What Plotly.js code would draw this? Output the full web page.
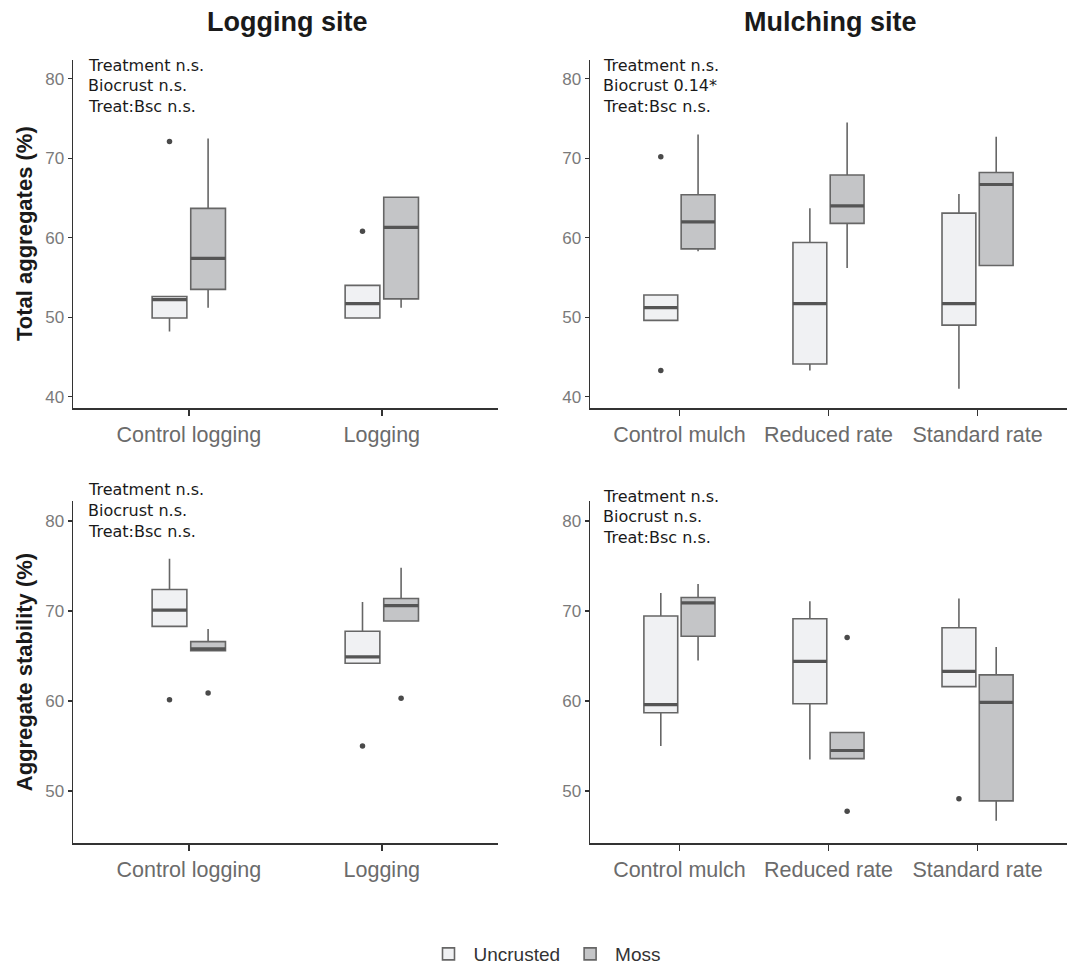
<!DOCTYPE html>
<html>
<head>
<meta charset="utf-8">
<script src="https://cdn.plot.ly/plotly-3.0.1.min.js"></script>
<style>html,body{margin:0;padding:0;background:#fff;}#chart{width:1067px;height:973px;}</style>
</head>
<body>
<div id="chart"></div>
<script>
// ---------- DATA ----------
const logCats = ["Control logging", "Logging"];
const mulCats = ["Control mulch", "Reduced rate", "Standard rate"];
const groupNames = ["Uncrusted", "Moss"];

// Total aggregates (%) - Logging site
const taLogUnc  = {lo:[48.2, 49.8], q1:[49.9, 49.9], med:[52.2, 51.7], q3:[52.6, 54.0], hi:[52.6, 54.0]};
const taLogMoss = {lo:[51.2, 51.2], q1:[53.5, 52.3], med:[57.4, 61.3], q3:[63.7, 65.1], hi:[72.5, 65.1]};
const taLogUncOut  = {cat:["Control logging", "Logging"], y:[72.1, 60.8]};
const taLogMossOut = {cat:[], y:[]};

// Total aggregates (%) - Mulching site
const taMulUnc  = {lo:[49.6, 43.3, 41.0], q1:[49.6, 44.1, 49.0], med:[51.2, 51.7, 51.7], q3:[52.8, 59.4, 63.1], hi:[52.8, 63.7, 65.5]};
const taMulMoss = {lo:[58.3, 56.2, 56.5], q1:[58.6, 61.8, 56.5], med:[62.0, 64.0, 66.7], q3:[65.4, 67.9, 68.2], hi:[73.0, 74.5, 72.7]};
const taMulUncOut  = {cat:["Control mulch", "Control mulch"], y:[70.2, 43.3]};
const taMulMossOut = {cat:[], y:[]};

// Aggregate stability (%) - Logging site
const asLogUnc  = {lo:[68.3, 64.2], q1:[68.3, 64.2], med:[70.1, 64.9], q3:[72.4, 67.75], hi:[75.8, 71.0]};
const asLogMoss = {lo:[65.6, 68.9], q1:[65.6, 68.9], med:[65.8, 70.6], q3:[66.6, 71.4], hi:[68.0, 74.8]};
const asLogUncOut  = {cat:["Control logging", "Logging"], y:[60.15, 55.0]};
const asLogMossOut = {cat:["Control logging", "Logging"], y:[60.9, 60.3]};

// Aggregate stability (%) - Mulching site
const asMulUnc  = {lo:[55.0, 53.5, 61.6], q1:[58.7, 59.7, 61.6], med:[59.6, 64.4, 63.3], q3:[69.45, 69.15, 68.15], hi:[72.0, 71.1, 71.4]};
const asMulMoss = {lo:[64.5, 53.6, 46.7], q1:[67.2, 53.6, 48.9], med:[70.9, 54.5, 59.85], q3:[71.5, 56.5, 62.9], hi:[73.0, 56.5, 66.0]};
const asMulUncOut  = {cat:["Standard rate"], y:[49.15]};
const asMulMossOut = {cat:["Reduced rate", "Reduced rate"], y:[67.05, 47.75]};

// Statistics text
const statsTaLog = ["Treatment n.s.", "Biocrust n.s.", "Treat:Bsc n.s."];
const statsTaMul = ["Treatment n.s.", "Biocrust 0.14*", "Treat:Bsc n.s."];
const statsAsLog = ["Treatment n.s.", "Biocrust n.s.", "Treat:Bsc n.s."];
const statsAsMul = ["Treatment n.s.", "Biocrust n.s.", "Treat:Bsc n.s."];

const siteTitles = ["Logging site", "Mulching site"];
const yTitles = ["Total aggregates (%)", "Aggregate stability (%)"];
const taTicks = [40, 50, 60, 70, 80];
const asTicks = [50, 60, 70, 80];

// ---------- STYLE / LAYOUT ----------
const W = 1067, H = 973;
const fx = px => px / W;
const fy = px => 1 - px / H;
const fills = ["#f0f1f3", "#c4c5c7"];
const boxLine = "#666666";
const medLine = "#555555";
const ptColor = "#4a4a4a";

const traces = [];
function addPanel(xa, ya, cats, groups, outs, offset, width, showlegend) {
  groups.forEach((g, gi) => {
    const sh = gi === 0 ? -offset : offset;
    const pos = cats.map((c, i) => i + sh);
    traces.push({
      type: 'box', xaxis: xa, yaxis: ya, name: groupNames[gi], legendgroup: groupNames[gi],
      showlegend: showlegend, x: pos,
      q1: g.q1, median: g.med, q3: g.q3, lowerfence: g.lo, upperfence: g.hi,
      width: width, whiskerwidth: 0, boxpoints: false,
      fillcolor: fills[gi], line: {color: boxLine, width: 1.6}, hoverinfo: 'skip'
    });
    // thicker median line (ggplot style)
    const mx = [], my = [];
    pos.forEach((p, i) => { mx.push(p - width / 2, p + width / 2, null); my.push(g.med[i], g.med[i], null); });
    traces.push({type: 'scatter', mode: 'lines', xaxis: xa, yaxis: ya, x: mx, y: my,
      line: {color: medLine, width: 3.2}, showlegend: false, hoverinfo: 'skip'});
    const o = outs[gi];
    traces.push({type: 'scatter', mode: 'markers', xaxis: xa, yaxis: ya,
      x: o.cat.map(c => cats.indexOf(c) + sh), y: o.y,
      marker: {color: ptColor, size: 5.5}, showlegend: false, hoverinfo: 'skip'});
  });
}

const offLog = 0.1, wLog = 0.18;
const offMul = 0.125, wMul = 0.227;
addPanel('x', 'y', logCats, [taLogUnc, taLogMoss], [taLogUncOut, taLogMossOut], offLog, wLog, true);
addPanel('x2', 'y2', mulCats, [taMulUnc, taMulMoss], [taMulUncOut, taMulMossOut], offMul, wMul, false);
addPanel('x3', 'y3', logCats, [asLogUnc, asLogMoss], [asLogUncOut, asLogMossOut], offLog, wLog, false);
addPanel('x4', 'y4', mulCats, [asMulUnc, asMulMoss], [asMulUncOut, asMulMossOut], offMul, wMul, false);

const fontFam = "Liberation Sans, Arial, sans-serif";
function xaxis(dom, cats, anchor) {
  return {domain: dom, anchor: anchor, range: [-0.6, cats.length - 0.4],
    tickmode: 'array', tickvals: cats.map((c, i) => i), ticktext: cats,
    showline: true, linecolor: '#333', linewidth: 1.5, ticks: 'outside', ticklen: 6,
    tickcolor: '#333', tickwidth: 1.6, showgrid: false, zeroline: false,
    tickfont: {family: fontFam, size: 21.5, color: '#6b6b6b'}, fixedrange: true};
}
function yaxis(dom, range, ticks, anchor) {
  return {domain: dom, anchor: anchor, range: range, tickmode: 'array', tickvals: ticks,
    showline: true, linecolor: '#333', linewidth: 1.5, ticks: 'outside', ticklen: 4,
    tickcolor: '#333', tickwidth: 1.3, showgrid: false, zeroline: false,
    tickfont: {family: fontFam, size: 17, color: '#7a7a7a'}, fixedrange: true};
}
const xL = [fx(73), fx(497.6)], xR = [fx(590), fx(1067)];
const yT = [fy(410), fy(60)], yB = [fy(846.7), fy(503.3)];

const annotations = [];
function statsAnn(lines, x, y0) {
  lines.forEach((t, i) => annotations.push({xref: 'paper', yref: 'paper', x: fx(x), y: fy(y0 + i * 20.6),
    xanchor: 'left', yanchor: 'middle', showarrow: false, text: t,
    font: {family: "DejaVu Sans, sans-serif", size: 16, color: '#1a1a1a'}}));
}
statsAnn(statsTaLog, 86, 65.5);
statsAnn(statsTaMul, 601, 65.5);
statsAnn(statsAsLog, 86, 492);
statsAnn(statsAsMul, 600.5, 498.5);

annotations.push({xref: 'paper', yref: 'paper', x: fx(287), y: fy(22), xanchor: 'center', yanchor: 'middle',
  showarrow: false, text: '<b>' + siteTitles[0] + '</b>', font: {family: fontFam, size: 27, color: '#1a1a1a'}});
annotations.push({xref: 'paper', yref: 'paper', x: fx(830), y: fy(22), xanchor: 'center', yanchor: 'middle',
  showarrow: false, text: '<b>' + siteTitles[1] + '</b>', font: {family: fontFam, size: 27, color: '#1a1a1a'}});
annotations.push({xref: 'paper', yref: 'paper', x: fx(24), y: fy(235), xanchor: 'center', yanchor: 'middle',
  textangle: -90, showarrow: false, text: '<b>' + yTitles[0] + '</b>', font: {family: fontFam, size: 22, color: '#1a1a1a'}});
annotations.push({xref: 'paper', yref: 'paper', x: fx(24), y: fy(675), xanchor: 'center', yanchor: 'middle',
  textangle: -90, showarrow: false, text: '<b>' + yTitles[1] + '</b>', font: {family: fontFam, size: 22, color: '#1a1a1a'}});

const layout = {
  width: W, height: H, margin: {l: 0, r: 0, t: 0, b: 0},
  paper_bgcolor: '#fff', plot_bgcolor: '#fff', boxmode: 'overlay',
  xaxis: xaxis(xL, logCats, 'y'), yaxis: yaxis(yT, [38.53, 82.4], taTicks, 'x'),
  xaxis2: xaxis(xR, mulCats, 'y2'), yaxis2: yaxis(yT, [38.53, 82.4], taTicks, 'x2'),
  xaxis3: xaxis(xL, logCats, 'y3'), yaxis3: yaxis(yB, [44.2, 82.2], asTicks, 'x3'),
  xaxis4: xaxis(xR, mulCats, 'y4'), yaxis4: yaxis(yB, [44.2, 82.2], asTicks, 'x4'),
  showlegend: true,
  legend: {orientation: 'h', x: fx(545), xanchor: 'center', y: fy(958), yanchor: 'middle',
    font: {family: fontFam, size: 19, color: '#333'}, bgcolor: 'rgba(0,0,0,0)', itemwidth: 40},
  annotations: annotations
};

Plotly.newPlot('chart', traces, layout, {displayModeBar: false, staticPlot: true});
</script>
</body>
</html>
